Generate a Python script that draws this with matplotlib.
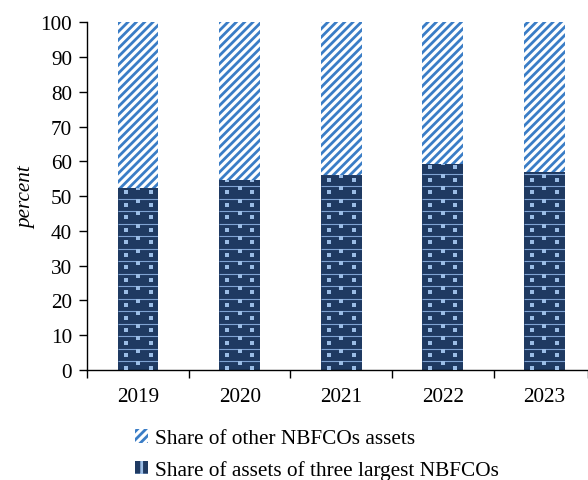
import matplotlib
matplotlib.use("Agg")
import matplotlib.pyplot as plt
from matplotlib.patches import Patch
import numpy as np

plt.rcParams['font.family'] = ['Liberation Serif', 'DejaVu Serif']
plt.rcParams['hatch.linewidth'] = 2.0

years = ['2019', '2020', '2021', '2022', '2023']
largest_three = [52.5, 54.6, 56.2, 59.4, 56.9]
others = [100 - v for v in largest_three]
label_others = 'Share of other NBFCOs assets'
label_largest = 'Share of assets of three largest NBFCOs'

navy = '#1f3a62'
stripe_blue = '#3a7dc6'
dot_blue = '#9bbde6'
line_blue = '#7fa3d3'

fig = plt.figure(figsize=(5.88, 4.81), dpi=100)
ax = fig.add_axes([0.1485, 0.2287, 0.8515, 0.7225])

x = np.arange(len(years))
width = 0.4
bars_low = ax.bar(x, largest_three, width, color=navy, linewidth=0, zorder=2)
ax.bar(x, others, width, bottom=largest_three, facecolor='white',
       edgecolor=stripe_blue, hatch='////', linewidth=0, zorder=2)

# light grid texture inside the dark segments
line_step = 3.6
line_start = 2.5
dot_dx = 0.123
for xi, val, rect in zip(x, largest_three, bars_low):
    ys = np.arange(line_start, val + line_step, line_step)
    segs = ax.hlines(ys, xi - width / 2, xi + width / 2, colors=line_blue,
                     linewidth=0.8, zorder=3)
    segs.set_clip_path(rect)
    cy = ys - 0.55
    ey = ys - 1.8
    pts_x = np.concatenate([np.full_like(cy, xi), np.full_like(ey, xi - dot_dx),
                            np.full_like(ey, xi + dot_dx)])
    pts_y = np.concatenate([cy, ey, ey])
    sc = ax.scatter(pts_x, pts_y, marker='s', s=6.5, color=dot_blue,
                    linewidths=0, zorder=4)
    sc.set_clip_path(rect)

fs = 15.3
ax.set_xlim(-0.5, 4.43)
ax.set_ylim(0, 100)
ax.set_yticks(np.arange(0, 101, 10))
ax.set_xticks(x)
ax.set_xticklabels(years)
ax.set_xticks(list(np.arange(-0.5, 4.0, 1.0)) + [4.43], minor=True)
ax.tick_params(axis='x', which='major', length=0, pad=12, labelsize=fs)
ax.tick_params(axis='x', which='minor', length=6, width=1, direction='out')
ax.tick_params(axis='y', length=6, width=1, direction='out', pad=5, labelsize=fs)
for s in ['top', 'right']:
    ax.spines[s].set_visible(False)
for s in ['left', 'bottom']:
    ax.spines[s].set_linewidth(1)
    ax.spines[s].set_color('black')

ax.set_ylabel('percent', fontsize=fs, fontstyle='italic', labelpad=3)

handles = [
    Patch(facecolor='white', edgecolor=stripe_blue, hatch='////', linewidth=0),
    Patch(facecolor=navy, edgecolor=dot_blue, hatch='+', linewidth=0),
]
fig.legend(handles, [label_others, label_largest], loc='upper left',
           bbox_to_anchor=(0.2296, 0.106), bbox_transform=fig.transFigure,
           frameon=False, fontsize=fs, handlelength=0.6, handleheight=0.6,
           handletextpad=0.35, labelspacing=0.55, borderpad=0, borderaxespad=0)

fig.savefig('out.png', dpi=100)
